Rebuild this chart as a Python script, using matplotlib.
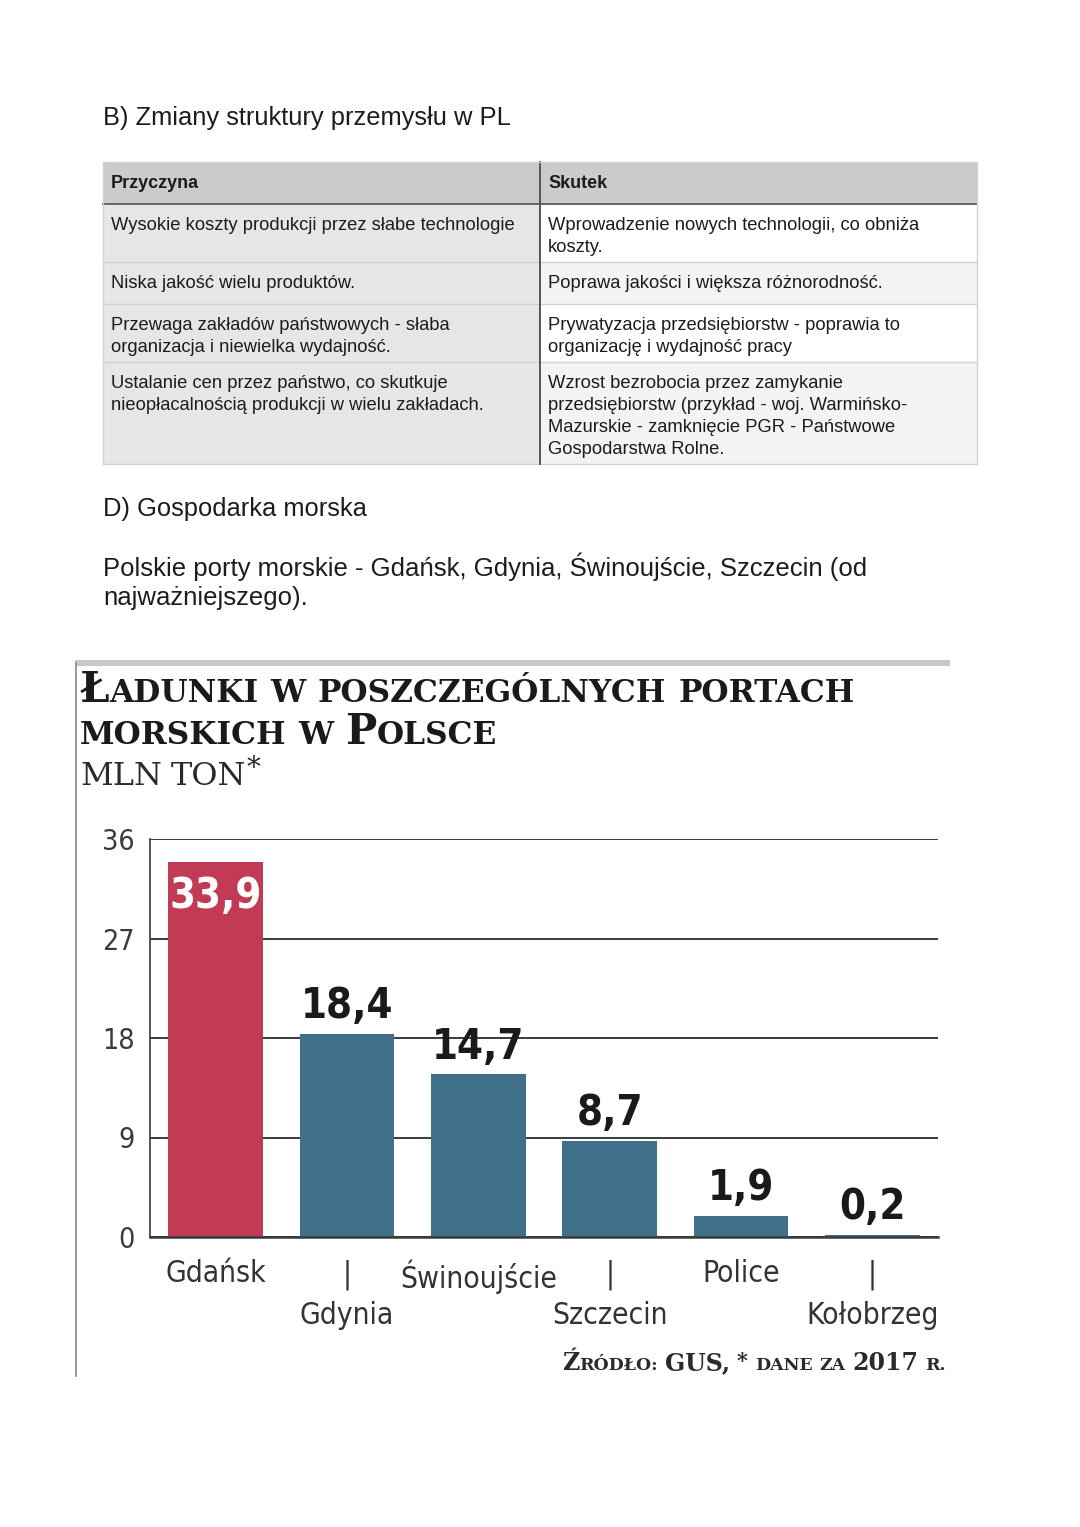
import matplotlib
matplotlib.use('Agg')
import matplotlib.pyplot as plt
from matplotlib import font_manager
from matplotlib.patches import Rectangle
from matplotlib.transforms import ScaledTranslation

W, H = 1080, 1527

# --- table text ---
table_header = ['Przyczyna', 'Skutek']
causes = [
    ['Wysokie koszty produkcji przez słabe technologie'],
    ['Niska jakość wielu produktów.'],
    ['Przewaga zakładów państwowych - słaba',
     'organizacja i niewielka wydajność.'],
    ['Ustalanie cen przez państwo, co skutkuje',
     'nieopłacalnością produkcji w wielu zakładach.'],
]
effects = [
    ['Wprowadzenie nowych technologii, co obniża', 'koszty.'],
    ['Poprawa jakości i większa różnorodność.'],
    ['Prywatyzacja przedsiębiorstw - poprawia to',
     'organizację i wydajność pracy'],
    ['Wzrost bezrobocia przez zamykanie',
     'przedsiębiorstw (przykład - woj. Warmińsko-',
     'Mazurskie - zamknięcie PGR - Państwowe',
     'Gospodarstwa Rolne.'],
]

# --- chart data ---
ports = ['Gdańsk', 'Gdynia', 'Świnoujście', 'Szczecin', 'Police', 'Kołobrzeg']
cargo = [33.9, 18.4, 14.7, 8.7, 1.9, 0.2]
y_ticks = [0, 9, 18, 27, 36]

names = {f.name for f in font_manager.fontManager.ttflist}
if 'Liberation Sans Narrow' in names:
    NARROW = dict(family='Liberation Sans Narrow')
else:
    NARROW = dict(family='DejaVu Sans', stretch='condensed')
SANS = 'Liberation Sans'
SERIF = 'DejaVu Serif'

fig = plt.figure(figsize=(W / 100, H / 100), dpi=100)
fig.patch.set_facecolor('white')

page = fig.add_axes([0, 0, 1, 1])
page.set_xlim(0, W)
page.set_ylim(H, 0)
page.axis('off')

TXT = '#1c1c1c'

# headings
page.text(103, 118, 'B) Zmiany struktury przemysłu w PL', family=SANS,
          fontsize=18.4, color=TXT, va='center')
page.text(103, 509, 'D) Gospodarka morska', family=SANS,
          fontsize=18.4, color=TXT, va='center')
page.text(103, 567, 'Polskie porty morskie - Gdańsk, Gdynia, Świnoujście, Szczecin (od',
          family=SANS, fontsize=18.5, color=TXT, va='center')
page.text(103, 598, 'najważniejszego).', family=SANS, fontsize=18.5,
          color=TXT, va='center')

# --- table ---
row_edges = [162, 204, 262, 304, 362, 464]
x0, xm, x1 = 103, 540, 977
page.add_patch(Rectangle((x0, 162), x1 - x0, 42, facecolor='#cbcbcb',
                         edgecolor='none'))
for i in range(len(causes)):
    top, bot = row_edges[i + 1], row_edges[i + 2]
    page.add_patch(Rectangle((x0, top), xm - x0, bot - top,
                             facecolor='#e6e6e6', edgecolor='none'))
    page.add_patch(Rectangle((xm, top), x1 - xm, bot - top,
                             facecolor='white' if i % 2 == 0 else '#f3f3f3',
                             edgecolor='none'))
    page.plot([x0, x1], [bot, bot], color='#d2d2d2', lw=1)
page.plot([x0, x1], [204, 204], color='#666666', lw=1.4)
page.plot([xm, xm], [162, 464], color='#555555', lw=1.4)
page.plot([x0, x1, x1], [162, 162, 464], color='#d2d2d2', lw=1)
page.plot([x0, x0], [162, 464], color='#d2d2d2', lw=1)

page.text(111, 183, table_header[0], family=SANS, fontsize=13,
          weight='bold', color=TXT, va='center')
page.text(548, 183, table_header[1], family=SANS, fontsize=13,
          weight='bold', color=TXT, va='center')
for i in range(len(causes)):
    y = row_edges[i + 1] + 21
    for k, line in enumerate(causes[i]):
        page.text(111, y + 22 * k, line, family=SANS, fontsize=13.2,
                  color=TXT, va='center')
    for k, line in enumerate(effects[i]):
        page.text(548, y + 22 * k, line, family=SANS, fontsize=13.2,
                  color=TXT, va='center')

# --- chart frame ---
page.add_patch(Rectangle((75, 660), 875, 6, facecolor='#c8c8c8',
                         edgecolor='none'))
page.plot([76, 76], [663, 1376], color='#8a8a8a', lw=1.2)

renderer = fig.canvas.get_renderer()


def small_caps(x, y, words, gap, ha='left', **kw):
    """Draw words made of (text, size, dy) runs along one baseline."""
    drawn = []
    for word in words:
        parts = []
        for s, size, dy in word:
            t = page.text(0, y - dy, s, fontsize=size, va='baseline',
                          ha='left', **kw)
            parts.append((t, t.get_window_extent(renderer).width))
        drawn.append(parts)
    total = sum(w for parts in drawn for _, w in parts) + gap * (len(drawn) - 1)
    cx = x if ha == 'left' else x - total
    for parts in drawn:
        for t, w in parts:
            t.set_x(cx)
            cx += w
        cx += gap


BIG, SMALL = 30, 22.5
small_caps(80, 702, [[('Ł', BIG, 0), ('ADUNKI', SMALL, 0)], [('W', SMALL, 0)],
                     [('POSZCZEGÓLNYCH', SMALL, 0)], [('PORTACH', SMALL, 0)]],
           12, family=SERIF, weight='bold', color='#1a1a1a')
small_caps(80, 744, [[('MORSKICH', SMALL, 0)], [('W', SMALL, 0)],
                     [('P', BIG, 0), ('OLSCE', SMALL, 0)]],
           12, family=SERIF, weight='bold', color='#1a1a1a')
small_caps(80, 785, [[('MLN', 23, 0)], [('TON', 23, 0), ('*', 20, 9)]],
           9, family=SERIF, color='#2a2a2a')
small_caps(946, 1370, [[('Ź', 17, 0), ('RÓDŁO:', 12.5, 0)],
                       [('GUS,', 17, 0)], [('*', 15, 3)],
                       [('DANE', 12.5, 0)], [('ZA', 12.5, 0)],
                       [('2017', 17, 0)], [('R.', 12.5, 0)]],
           7, ha='right', family=SERIF, weight='bold', color='#2a2a2a')

# --- bar chart ---
ax = fig.add_axes([150 / W, 1 - 1237 / H, (938 - 150) / W, (1237 - 839) / H])
ax.patch.set_alpha(0)
colors = ['#c03b53'] + ['#40708a'] * (len(ports) - 1)
ax.bar(range(len(ports)), cargo, width=0.72, color=colors, zorder=2)
ax.set_xlim(-0.5, 5.5)
ax.set_ylim(0, 36)
ax.set_yticks(y_ticks)
ax.set_yticklabels([str(v) for v in y_ticks], color='#3a3a3a', fontsize=20.5,
                   **NARROW)
lift = ScaledTranslation(0, 4 / 100, fig.dpi_scale_trans)
for lab in ax.get_yticklabels():
    lab.set_transform(lab.get_transform() + lift)
ax.yaxis.grid(True, color='#3a3a3a', lw=1.4, zorder=0)
ax.set_axisbelow(True)
for side in ['top', 'right']:
    ax.spines[side].set_visible(False)
ax.spines['left'].set_color('#3a3a3a')
ax.spines['left'].set_linewidth(1.2)
ax.spines['bottom'].set_color('#3a3a3a')
ax.spines['bottom'].set_linewidth(1.8)
ax.spines['left'].set_zorder(3)
ax.tick_params(axis='y', length=0, pad=11)
ax.set_xticks(range(len(ports)))
ax.set_xticklabels([p if i % 2 == 0 else '|\n' + p for i, p in enumerate(ports)],
                   color='#333333', fontsize=21.5, linespacing=1.5, va='top',
                   **NARROW)
ax.tick_params(axis='x', length=0, pad=16)

for i, v in enumerate(cargo):
    lab = f'{v:.1f}'.replace('.', ',')
    if i == 0:
        ax.annotate(lab, (i, v), xytext=(0, -9), textcoords='offset points',
                    ha='center', va='top', color='white', fontsize=30,
                    weight='bold', zorder=4, **NARROW)
    else:
        ax.annotate(lab, (i, v), xytext=(0, 5), textcoords='offset points',
                    ha='center', va='bottom', color='#1a1a1a', fontsize=30,
                    weight='bold', zorder=4, **NARROW)

fig.savefig('out.png', dpi=100, facecolor='white')
